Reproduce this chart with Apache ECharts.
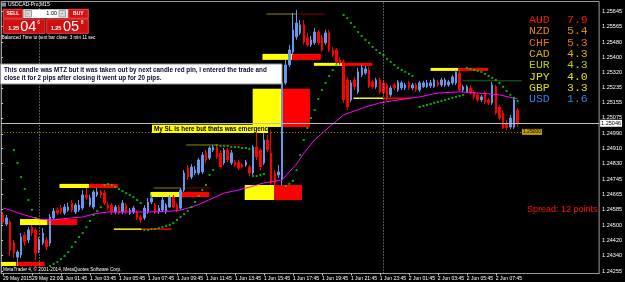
<!DOCTYPE html>
<html><head><meta charset="utf-8">
<script src="https://cdn.jsdelivr.net/npm/echarts@6/dist/echarts.min.js"></script>
<style>html,body{margin:0;padding:0;background:#000;}#c{width:625px;height:282px;}</style>
</head><body><div id="c"></div>
<script>
// ---- data (prices) ----
const candles = [ // [open, close, low, high]
[1.24556,1.24518,1.24507,1.24572],[1.24507,1.24540,1.24497,1.24556],[1.24518,1.24368,1.24336,1.24529],[1.24406,1.24352,1.24326,1.24422],
[1.24331,1.24358,1.24283,1.24368],[1.24342,1.24438,1.24326,1.24459],[1.24449,1.24411,1.24390,1.24465],[1.24422,1.24475,1.24406,1.24491],
[1.24491,1.24459,1.24443,1.24502],[1.24475,1.24352,1.24315,1.24486],[1.24368,1.24422,1.24352,1.24438],[1.24406,1.24459,1.24395,1.24486],
[1.24422,1.24384,1.24368,1.24438],[1.24406,1.24545,1.24390,1.24561],[1.24540,1.24577,1.24529,1.24593],[1.24582,1.24566,1.24556,1.24598],
[1.24593,1.24572,1.24561,1.24609],[1.24566,1.24598,1.24556,1.24614],[1.24582,1.24598,1.24572,1.24620],[1.24620,1.24582,1.24572,1.24636],
[1.24572,1.24609,1.24561,1.24620],[1.24582,1.24609,1.24572,1.24636],[1.24593,1.24663,1.24582,1.24689],[1.24663,1.24647,1.24636,1.24700],
[1.24609,1.24647,1.24598,1.24663],[1.24598,1.24679,1.24588,1.24689],[1.24663,1.24679,1.24652,1.24700],[1.24679,1.24663,1.24647,1.24689],
[1.24673,1.24620,1.24609,1.24689],[1.24609,1.24593,1.24582,1.24625],[1.24609,1.24572,1.24556,1.24620],[1.24572,1.24598,1.24561,1.24609],
[1.24598,1.24566,1.24556,1.24609],[1.24572,1.24620,1.24561,1.24636],[1.24609,1.24572,1.24561,1.24620],[1.24566,1.24582,1.24556,1.24593],
[1.24572,1.24593,1.24561,1.24604],[1.24572,1.24540,1.24529,1.24582],[1.24545,1.24529,1.24513,1.24556],[1.24540,1.24593,1.24529,1.24609],
[1.24572,1.24625,1.24561,1.24647],[1.24625,1.24647,1.24614,1.24663],[1.24609,1.24572,1.24561,1.24620],[1.24572,1.24593,1.24561,1.24609],
[1.24582,1.24636,1.24572,1.24657],[1.24572,1.24609,1.24561,1.24620],[1.24598,1.24652,1.24593,1.24663],[1.24652,1.24598,1.24593,1.24663],
[1.24609,1.24582,1.24572,1.24620],[1.24593,1.24689,1.24582,1.24700],[1.24689,1.24780,1.24679,1.24796],[1.24807,1.24759,1.24743,1.24823],
[1.24759,1.24812,1.24748,1.24828],[1.24780,1.24796,1.24769,1.24818],[1.24780,1.24850,1.24769,1.24860],[1.24786,1.24876,1.24775,1.24892],
[1.24887,1.24850,1.24834,1.24903],[1.24860,1.24914,1.24850,1.24924],[1.24903,1.24919,1.24892,1.24930],[1.24919,1.24866,1.24855,1.24930],
[1.24887,1.24812,1.24802,1.24903],[1.24834,1.24903,1.24823,1.24914],[1.24903,1.24850,1.24839,1.24914],[1.24834,1.24887,1.24823,1.24903],
[1.24839,1.24823,1.24812,1.24850],[1.24839,1.24807,1.24796,1.24850],[1.24823,1.24812,1.24802,1.24834],[1.24823,1.24839,1.24812,1.24850],
[1.24812,1.24780,1.24764,1.24823],[1.24780,1.24919,1.24769,1.24930],[1.24919,1.24866,1.24850,1.25010],[1.24903,1.24812,1.24796,1.24914],
[1.24834,1.24957,1.24823,1.24994],[1.24957,1.24903,1.24892,1.24984],[1.24887,1.24727,1.24716,1.25010],[1.24780,1.24727,1.24711,1.24796],
[1.24770,1.24786,1.24754,1.24823],[1.24743,1.25262,1.24716,1.25304],[1.25262,1.25358,1.25251,1.25385],[1.25358,1.25438,1.25347,1.25465],
[1.25427,1.25545,1.25411,1.25636],[1.25508,1.25582,1.25492,1.25652],[1.25529,1.25572,1.25518,1.25598],[1.25572,1.25481,1.25465,1.25598],
[1.25502,1.25465,1.25454,1.25529],[1.25465,1.25492,1.25454,1.25513],[1.25476,1.25534,1.25465,1.25556],[1.25534,1.25476,1.25465,1.25545],
[1.25502,1.25438,1.25427,1.25518],[1.25476,1.25529,1.25465,1.25545],[1.25529,1.25438,1.25427,1.25545],[1.25438,1.25411,1.25401,1.25454],
[1.25438,1.25374,1.25363,1.25449],[1.25385,1.25369,1.25358,1.25401],[1.25374,1.25171,1.25155,1.25385],[1.25278,1.25134,1.25117,1.25294],
[1.25171,1.25262,1.25160,1.25278],[1.25278,1.25241,1.25224,1.25294],[1.25214,1.25321,1.25203,1.25342],[1.25305,1.25342,1.25294,1.25358],
[1.25315,1.25337,1.25305,1.25353],[1.25331,1.25241,1.25235,1.25347],[1.25267,1.25241,1.25230,1.25278],[1.25241,1.25278,1.25230,1.25289],
[1.25278,1.25214,1.25203,1.25289],[1.25262,1.25209,1.25198,1.25273],[1.25251,1.25182,1.25171,1.25262],[1.25198,1.25235,1.25187,1.25246],
[1.25251,1.25235,1.25224,1.25262],[1.25224,1.25267,1.25214,1.25278],[1.25235,1.25262,1.25224,1.25273],[1.25235,1.25251,1.25224,1.25262],
[1.25262,1.25235,1.25224,1.25273],[1.25235,1.25251,1.25224,1.25262],[1.25251,1.25224,1.25214,1.25262],[1.25224,1.25262,1.25214,1.25273],
[1.25241,1.25262,1.25235,1.25273],[1.25241,1.25262,1.25235,1.25278],[1.25246,1.25262,1.25235,1.25278],[1.25241,1.25278,1.25235,1.25289],
[1.25267,1.25251,1.25241,1.25278],[1.25251,1.25278,1.25241,1.25289],[1.25251,1.25278,1.25241,1.25289],[1.25251,1.25267,1.25241,1.25278],
[1.25262,1.25294,1.25251,1.25305],[1.25262,1.25321,1.25251,1.25331],[1.25315,1.25224,1.25214,1.25331],[1.25224,1.25241,1.25214,1.25251],
[1.25214,1.25241,1.25208,1.25251],[1.25235,1.25208,1.25198,1.25246],[1.25214,1.25187,1.25176,1.25224],[1.25198,1.25171,1.25160,1.25208],
[1.25171,1.25187,1.25160,1.25198],[1.25208,1.25160,1.25149,1.25219],[1.25171,1.25155,1.25144,1.25182],[1.25155,1.25251,1.25144,1.25267],
[1.25241,1.25101,1.25091,1.25251],[1.25133,1.25074,1.25064,1.25144],[1.25101,1.25020,1.25016,1.25117],[1.25042,1.25021,1.25010,1.25064],
[1.25026,1.25074,1.25016,1.25091],[1.25026,1.25171,1.25016,1.25182],[1.25117,1.25046,1.25026,1.25128]
];
const maPoints = [ // [bar, price] magenta moving average
[0,1.24593],[2,1.24582],[5,1.24561],[8,1.24545],[10,1.24534],[13,1.24529],[16,1.24534],[19,1.24540],[22,1.24545],[25,1.24561],
[29,1.24572],[36,1.24572],[40,1.24572],[47,1.24577],[49,1.24582],[52,1.24598],[55,1.24620],[58,1.24647],[61,1.24673],[65,1.24689],
[68,1.24705],[72,1.24727],[77,1.24743],[79,1.24786],[81,1.24828],[83,1.24887],[86,1.24957],[90,1.25026],[94,1.25091],[100,1.25133],
[104,1.25155],[109,1.25171],[115,1.25187],[120,1.25208],[126,1.25214],[131,1.25208],[137,1.25198],[142,1.25176]
];
const sarPoints = [ // [bar, price] green parabolic SAR dots
[3,1.24903],[4,1.24834],[5,1.24759],[6,1.24695],[7,1.24636],[8,1.24583],[9,1.24540],
[13,1.24283],[14,1.24294],[15,1.24304],[16,1.24320],[17,1.24337],[18,1.24358],[19,1.24385],[20,1.24411],[21,1.24438],[22,1.24459],[23,1.24491],[24,1.24524],[25,1.24556],[26,1.24577],[27,1.24598],
[28,1.24716],[29,1.24722],[30,1.24716],[31,1.24705],[32,1.24695],[33,1.24684],[34,1.24673],[35,1.24663],[36,1.24652],[37,1.24636],[38,1.24620],
[39,1.24476],[40,1.24476],[41,1.24481],[42,1.24481],[43,1.24486],[44,1.24491],[45,1.24497],[46,1.24502],[47,1.24513],[48,1.24529],[49,1.24545],[50,1.24561],[51,1.24577],[52,1.24598],[53,1.24625],[54,1.24657],[55,1.24689],[56,1.24716],[57,1.24770],[58,1.24796],
[59,1.24930],[60,1.24925],[61,1.24925],[62,1.24925],[63,1.24919],[64,1.24919],[65,1.24919],[66,1.24914],[67,1.24914],[68,1.24909],
[69,1.24764],[70,1.24764],[71,1.24770],[72,1.24775],
[78,1.24711],[79,1.24722],[80,1.24738],[81,1.24796],[82,1.24877],[83,1.24957],[84,1.25021],[85,1.25074],[86,1.25117],[87,1.25176],[88,1.25224],[89,1.25262],[90,1.25299],[91,1.25331],[92,1.25358],
[94,1.25625],[95,1.25609],[96,1.25582],[97,1.25561],[98,1.25534],[99,1.25513],[100,1.25492],[101,1.25476],[102,1.25454],[103,1.25438],[104,1.25422],[105,1.25411],[106,1.25390],[107,1.25374],[108,1.25358],[109,1.25342],[110,1.25331],[111,1.25321],[112,1.25310],[113,1.25299],
[115,1.25133],[116,1.25139],[117,1.25144],[118,1.25149],[119,1.25155],[120,1.25160],[121,1.25165],[122,1.25171],[123,1.25176],[124,1.25182],[125,1.25187],[126,1.25192],[127,1.25198],
[128,1.25342],[129,1.25337],[130,1.25331],[131,1.25326],[132,1.25321],[133,1.25310],[134,1.25299],[135,1.25289],[136,1.25278],[137,1.25262],[138,1.25241],[139,1.25219],[140,1.25198],[141,1.25182],[142,1.25165]
];
// yellow/red zones: [startBar, splitBar, endBar, topPrice, bottomPrice]
const zones = [
[0,4.1,12.0,1.24305,1.24283],[5.2,12.8,21.0,1.24534,1.24502],[16.1,24.3,32.2,1.24722,1.24700],
[31.1,38.8,47.0,1.24484,1.24476],[41.2,49.4,57.4,1.24679,1.24652],[67.2,75.4,83.0,1.24716,1.24636],
[69.4,77.6,85.2,1.25230,1.25026],[72.1,80.3,88.2,1.25417,1.25385],[86.3,94.5,102.4,1.25369,1.25353],
[97.2,105.4,113.1,1.25184,1.25176],[118.5,126.2,134.4,1.25342,1.25326]
];
// thin olive / dark-red levels: [startBar, splitBar, endBar, price]
const levelLines = [[42.1,49.4,57.9,1.24700],[51.1,59.3,67.2,1.24930],[73.2,81.4,89.3,1.25630]];
const greenLevel = [[127.3,143.7,1.25273]];
const bidPrice = 1.25046;
const alertPrice = 1.25000;
const alertEndBar = 143.7;
const separatorBars = [10, 105];
const yTickValues = [1.24255,1.24340,1.24420,1.24500,1.24585,1.24665,1.24745,1.24830,1.24910,1.24990,1.25075,1.25155,1.25235,1.25320,1.25400,1.25480,1.25565,1.25645];
const xTickBars = [0,8,16,24,32,40,48,56,64,72,80,88,96,104,112,120,128,136];
const xTickLabels = ['29 May 2015','29 May 22:00','1 Jun 01:45','1 Jun 03:45','1 Jun 05:45','1 Jun 07:45','1 Jun 09:45','1 Jun 11:45','1 Jun 13:45','1 Jun 15:45','1 Jun 17:45','1 Jun 19:45','1 Jun 21:45','1 Jun 23:45','2 Jun 01:45','2 Jun 03:45','2 Jun 05:45','2 Jun 07:45'];
const strengthNames = ['AUD','NZD','CHF','CAD','EUR','JPY','GBP','USD'];
const strengthValues = ['7.9','5.4','5.3','4.3','4.3','4.0','3.3','1.6'];
const TOTAL_BARS = 165;
const Y_MIN = 1.24243, Y_MAX = 1.25697;

// ---- build ----
const xCategories = Array.from({length: TOTAL_BARS}, (_, i) => String(i));
const labelMap = {};
xTickBars.forEach((b, k) => { labelMap[b] = xTickLabels[k]; });
const isTick = (i) => Object.prototype.hasOwnProperty.call(labelMap, i);
const FONT = '"Liberation Sans", Arial, sans-serif';
const strengthColors = ['#ff1010','#d88a00','#e07010','#d8b000','#b8c800','#e0e000','#d8d800','#2a80e8'];

function T(x, y, text, st) {
  return {type:'text', x:x, y:y, z:100, silent:true,
    style:Object.assign({text:text, fill:'#fff', font:'5.5px ' + FONT, verticalAlign:'middle', align:'left'}, st || {})};
}
function R(x, y, w, h, fill, stroke) {
  return {type:'rect', z:99, silent:true, shape:{x:x, y:y, width:w, height:h},
    style:{fill:fill, stroke:stroke || null, lineWidth:stroke ? 1 : 0}};
}

const graphics = [
  R(2, 2.5, 4, 4, '#8090a8'),
  T(8, 4.6, 'USDCAD-Pro,M15', {font:'5px ' + FONT}),
  R(3.3, 9.3, 19.4, 9, '#d41414', '#f05050'),
  T(13, 13.9, 'SELL', {align:'center', font:'bold 5px ' + FONT}),
  R(23.3, 9.3, 45, 9, '#ffffff'),
  R(25, 10.5, 6.5, 6.5, '#d8d8d8', '#a0a0a0'),
  R(59, 10.5, 6.5, 6.5, '#d8d8d8', '#a0a0a0'),
  T(28.2, 13.8, '-', {fill:'#333', align:'center', font:'5px ' + FONT}),
  T(62.2, 13.8, '-', {fill:'#333', align:'center', font:'5px ' + FONT}),
  T(51.7, 13.9, '1.00', {fill:'#000', align:'center', font:'5.5px ' + FONT}),
  R(68.3, 9.3, 20, 9, '#d41414', '#f05050'),
  T(78.3, 13.9, 'BUY', {align:'center', font:'bold 5px ' + FONT}),
  R(3.3, 19, 41.7, 14.3, '#d01010', '#e84040'),
  R(46.7, 19, 41.6, 14.3, '#d01010', '#e84040'),
  T(8.3, 28.8, '1.25', {font:'bold 5.5px ' + FONT}),
  T(20.3, 26.6, '04', {font:'14.5px ' + FONT}),
  T(37.3, 22.6, '6', {font:'5px ' + FONT}),
  T(50.7, 28.8, '1.25', {font:'bold 5.5px ' + FONT}),
  T(63.0, 26.6, '05', {font:'14.5px ' + FONT}),
  T(80.7, 22.6, '8', {font:'5px ' + FONT}),
  T(1.7, 38.2, 'Balanced Time to next bar close: 3 min 11 sec', {font:'4.6px ' + FONT}),
  R(0.5, 64, 281.5, 20, '#ffffff', '#909090'),
  T(4, 70.2, 'This candle was MTZ but it was taken out by next candle red pin, i entered the trade and', {fill:'#0a0a30', font:'bold 6.3px ' + FONT}),
  T(4, 78.7, 'close it for 2 pips after closing it went up for 20 pips.', {fill:'#0a0a30', font:'bold 6.3px ' + FONT}),
  R(152, 124.8, 116, 8.2, '#ffff00'),
  T(154, 129, 'My SL is here but thats was emergency.', {fill:'#000', font:'bold 6.3px ' + FONT}),
  T(600, 210, 'Spread: 12 points.', {fill:'#ff1010', align:'right', font:'9px ' + FONT}),
  T(3, 270, 'MetaTrader 4, \u00a9 2001-2014, MetaQuotes Software Corp.', {font:'4.7px ' + FONT})
];
strengthNames.forEach((n, k) => {
  const y = 20 + 11.33 * k;
  graphics.push(T(529, y, n, {fill:strengthColors[k], font:'11.5px "Liberation Mono", "Courier New", monospace'}));
  graphics.push(T(567, y, strengthValues[k], {fill:strengthColors[k], font:'11.5px "Liberation Mono", "Courier New", monospace'}));
});

const chart = echarts.init(document.getElementById('c'), null, {renderer:'canvas'});
chart.setOption({
  backgroundColor:'#000000',
  animation:false,
  grid:{left:1, right:20, top:1.5, bottom:8.5, show:true, borderColor:'#9a9a9a', borderWidth:1},
  xAxis:[
    {type:'category', data:xCategories, boundaryGap:true,
     axisLine:{show:true, lineStyle:{color:'#9a9a9a'}},
     axisTick:{show:true, interval:(i) => isTick(i), alignWithLabel:true, length:2, lineStyle:{color:'#c8c8c8'}},
     axisLabel:{interval:(i) => isTick(i), formatter:(v, i) => labelMap[i] || '', color:'#ffffff', fontSize:5, fontFamily:FONT, align:'left', margin:2.5},
     splitLine:{show:false}},
    {type:'value', min:0, max:TOTAL_BARS, show:false}
  ],
  yAxis:{type:'value', position:'right', min:Y_MIN, max:Y_MAX,
    axisLine:{show:true, lineStyle:{color:'#9a9a9a'}},
    axisTick:{show:true, length:2, customValues:yTickValues, lineStyle:{color:'#c8c8c8'}},
    axisLabel:{customValues:yTickValues, formatter:(v) => v.toFixed(5), color:'#ffffff', fontSize:5.5, fontFamily:FONT, margin:3},
    splitLine:{show:false}},
  graphic:graphics,
  series:[
    {type:'custom', xAxisIndex:1, yAxisIndex:0, z:1, silent:true, data:zones,
     encode:{x:[0,1,2], y:[3,4]},
     renderItem:function(params, api){
       const s = api.coord([api.value(0), api.value(3)]);
       const m = api.coord([api.value(1), api.value(4)]);
       const e = api.coord([api.value(2), api.value(4)]);
       const h = Math.max(1.5, m[1] - s[1]);
       return {type:'group', children:[
         {type:'rect', shape:{x:s[0], y:s[1], width:m[0]-s[0], height:h}, style:{fill:'#ffff00'}},
         {type:'rect', shape:{x:m[0], y:s[1], width:e[0]-m[0], height:h}, style:{fill:'#ff0000'}}
       ]};
     }},
    {type:'custom', xAxisIndex:1, yAxisIndex:0, z:1, silent:true, data:levelLines,
     encode:{x:[0,1,2], y:3},
     renderItem:function(params, api){
       const s = api.coord([api.value(0), api.value(3)]);
       const m = api.coord([api.value(1), api.value(3)]);
       const e = api.coord([api.value(2), api.value(3)]);
       return {type:'group', children:[
         {type:'line', shape:{x1:s[0], y1:s[1], x2:m[0], y2:m[1]}, style:{stroke:'#8a8a00', lineWidth:1}},
         {type:'line', shape:{x1:m[0], y1:m[1], x2:e[0], y2:e[1]}, style:{stroke:'#8a0000', lineWidth:1}}
       ]};
     },
     markLine:{silent:true, symbol:['none','none'], animation:false, precision:5,
       data:[
         [{coord:[0, alertPrice], lineStyle:{color:'#a09000', type:[1,2], width:1},
           label:{show:true, position:'end', distance:0, formatter:'1.25000', color:'#000', backgroundColor:'#c0a000', fontSize:5, fontFamily:FONT, padding:[1,1,0,1]}},
          {coord:[alertEndBar, alertPrice]}],
         [{coord:[0, bidPrice], lineStyle:{color:'#c0c0c0', type:'solid', width:1},
           label:{show:true, position:'end', distance:1, formatter:'1.25046', color:'#000', backgroundColor:'#ffffff', fontSize:5.5, fontFamily:FONT, padding:[1,1,0,1]}},
          {coord:[TOTAL_BARS, bidPrice]}]
       ]}},
    {type:'custom', xAxisIndex:1, yAxisIndex:0, z:1, silent:true, data:greenLevel,
     encode:{x:[0,1], y:2},
     renderItem:function(params, api){
       const s = api.coord([api.value(0), api.value(2)]);
       const e = api.coord([api.value(1), api.value(2)]);
       return {type:'line', shape:{x1:s[0], y1:s[1], x2:e[0], y2:e[1]}, style:{stroke:'#1a6a1a', lineWidth:1}};
     }},
    {type:'candlestick', xAxisIndex:0, yAxisIndex:0, z:3, data:candles, barWidth:2,
     itemStyle:{color:'#6699ee', color0:'#ff0000', borderColor:'#6699ee', borderColor0:'#ff0000', borderWidth:1},
     markLine:{silent:true, symbol:['none','none'], animation:false,
       data:[
         {xAxis:separatorBars[0], lineStyle:{color:'#b0b0b0', type:[1,2], width:1}, label:{show:false}},
         {xAxis:separatorBars[1], lineStyle:{color:'#b0b0b0', type:[1,2], width:1}, label:{show:false}}
       ]}},
    {type:'line', xAxisIndex:0, yAxisIndex:0, z:4, data:maPoints, symbol:'none', silent:true,
     lineStyle:{color:'#ff00ff', width:1}},
    {type:'scatter', xAxisIndex:0, yAxisIndex:0, z:4, data:sarPoints, symbol:'rect', symbolSize:2, silent:true,
     itemStyle:{color:'#00e000'}}
  ]
});
</script>
</body></html>
